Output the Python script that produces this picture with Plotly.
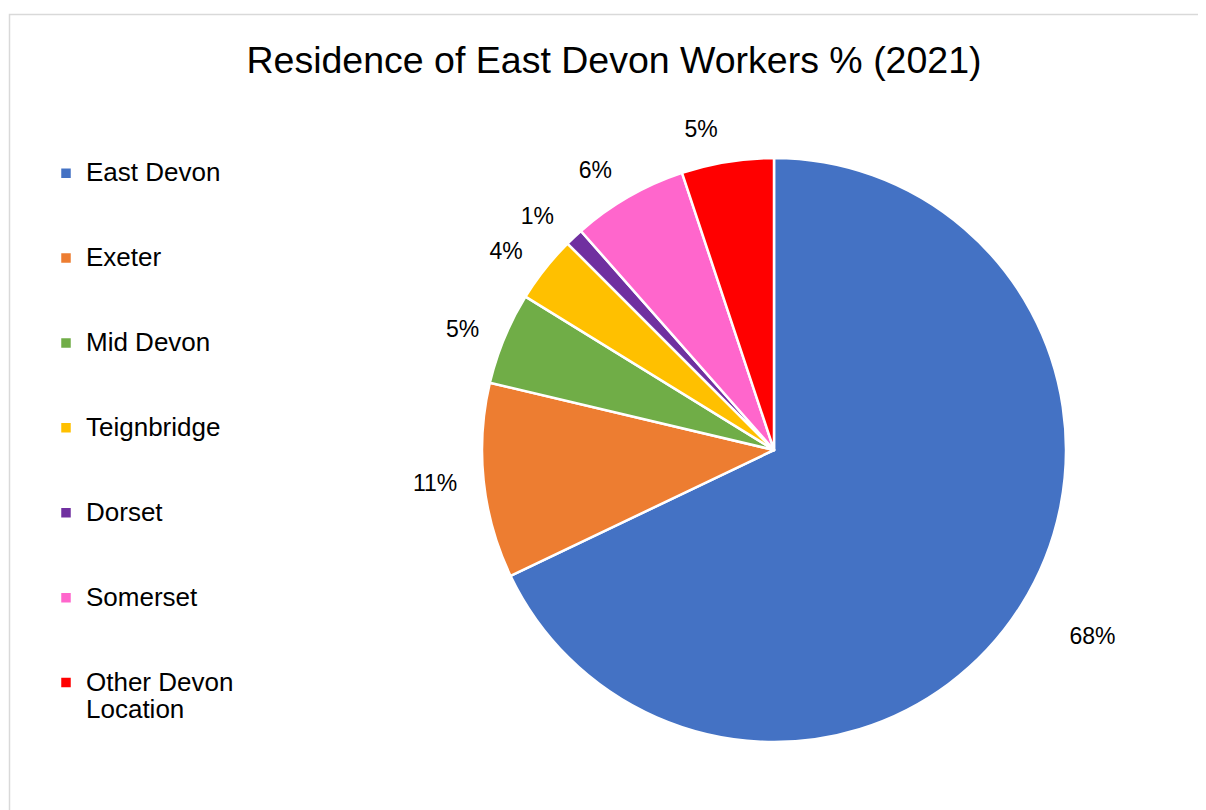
import plotly.graph_objects as go

categories = ["East Devon", "Exeter", "Mid Devon", "Teignbridge", "Dorset", "Somerset", "Other Devon Location"]
values = [67.9, 10.8, 5.1, 3.7, 1.0, 6.4, 5.1]
colors = ["#4472C4", "#ED7D31", "#70AD47", "#FFC000", "#7030A0", "#FF66CC", "#FF0000"]

FONT = "Liberation Sans, Arial, sans-serif"
W, H = 1198, 802  # page body has an 8px margin

# pie geometry (pixels, figure coordinates)
CX, CY, R = 766, 442, 292
LABEL_GAP = 20
# extra outward offset for individual labels (fraction of label-ring radius)
label_pull = [0.095, 0, 0, 0, 0, 0, 0]


def dom(half_size):
    y0 = 1 - (CY + half_size) / H
    y1 = 1 - (CY - half_size) / H
    cxf = CX / W
    half = (half_size + 40) / W
    return dict(x=[cxf - half, cxf + half], y=[y0, y1])


# legend entries padded to three lines so the spacing between items matches
legend_names = []
for c in categories:
    if c == "Other Devon Location":
        legend_names.append(
            "<span style='font-size:26px'>Other Devon</span><br>"
            "<span style='font-size:26px'>Location</span><br>&nbsp;")
    else:
        legend_names.append(f"<span style='font-size:26px'>{c}</span><br>&nbsp;<br>&nbsp;")

fig = go.Figure()
# visible pie
fig.add_trace(go.Pie(
    labels=legend_names,
    values=values,
    sort=False,
    direction="clockwise",
    rotation=0,
    marker=dict(colors=colors, line=dict(color="white", width=2.5)),
    textinfo="none",
    hovertext=categories,
    hoverinfo="text+percent",
    domain=dom(R),
))
# transparent, slightly larger twin carrying the outside percentage labels
ring = R + LABEL_GAP
fig.add_trace(go.Pie(
    labels=legend_names,
    values=values,
    sort=False,
    direction="clockwise",
    rotation=0,
    pull=label_pull,
    automargin=False,
    marker=dict(colors=["rgba(0,0,0,0)"] * len(values), line=dict(width=0)),
    textposition="outside",
    texttemplate="%{percent:.0%}",
    textfont=dict(family=FONT, size=23, color="#000000"),
    hoverinfo="skip",
    showlegend=False,
    domain=dom(ring * (1 + max(label_pull))),
))

fig.update_layout(
    width=W, height=H,
    margin=dict(l=0, r=0, t=0, b=0, autoexpand=False),
    paper_bgcolor="white",
    plot_bgcolor="white",
    font=dict(family=FONT, color="#000000"),
    title=dict(
        text="Residence of East Devon Workers % (2021)",
        font=dict(family=FONT, size=37.5, color="#000000"),
        x=606 / W, xanchor="center",
        y=1 - 52 / H, yanchor="middle",
    ),
    showlegend=True,
    legend=dict(
        x=38 / W, xanchor="left",
        y=1 - 145 / H, yanchor="top",
        font=dict(family=FONT, size=21, color="#000000"),
        valign="top",
        itemwidth=30,
        bgcolor="rgba(0,0,0,0)",
    ),
    shapes=[dict(
        type="rect", xref="paper", yref="paper",
        x0=1.5 / W, x1=1.05, y0=-0.05, y1=1 - 6.5 / H,
        line=dict(color="#D9D9D9", width=1.5),
        fillcolor="rgba(0,0,0,0)", layer="below",
    )],
)

fig.write_html("out.html")
